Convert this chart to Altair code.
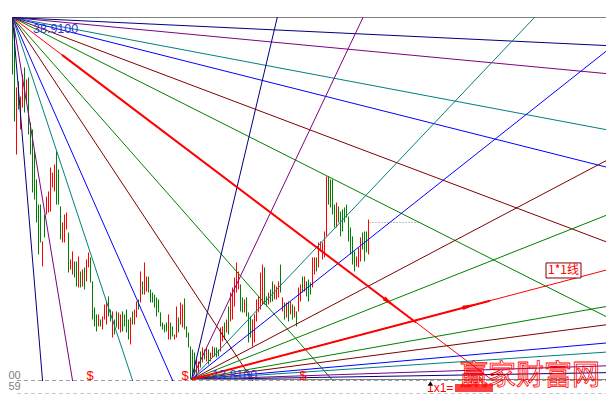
import math
import altair as alt
import pandas as pd

# ---------------- bar data (one bar per trading day) ----------------
bar_high = [38.91, 38.08, 34.06, 34.47, 33.43, 34.96, 35.44, 34.61, 34.75, 31.63,
            31.15, 29.62, 27.68, 25.94, 25.94, 23.38, 25.25, 26.50, 26.85, 28.51,
            28.16, 28.72, 29.62, 28.37, 25.81, 24.70, 25.25, 25.39, 24.00, 22.13,
            22.69, 21.99, 21.99, 22.34, 21.30, 21.44, 21.58, 22.13, 22.62, 22.27,
            20.61, 18.80, 18.32, 18.32, 17.97, 18.18, 19.01, 19.22, 19.57, 18.66,
            18.53, 17.97, 18.53, 18.46, 18.32, 18.53, 18.32, 18.66, 17.97, 18.11,
            18.53, 18.66, 19.22, 19.36, 21.30, 20.61, 21.92, 20.95, 20.95, 20.05,
            19.84, 19.70, 19.50, 19.36, 18.46, 17.76, 17.62, 17.76, 18.32, 17.76,
            17.49, 16.93, 18.87, 18.11, 19.15, 19.01, 19.43, 17.49, 17.07, 16.10,
            15.89, 15.68, 15.20, 15.06, 15.75, 16.03, 15.89, 16.03, 15.89, 15.68,
            16.10, 16.03, 16.03, 15.89, 17.42, 17.49, 17.76, 17.97, 18.87, 19.84,
            20.19, 20.88, 21.92, 21.30, 20.40, 19.50, 19.36, 19.50, 18.46, 18.18,
            17.97, 18.32, 19.36, 19.57, 21.23, 21.78, 21.58, 19.57, 19.84, 20.05,
            20.61, 20.40, 20.26, 20.61, 21.78, 19.50, 19.15, 19.15, 19.22, 19.22,
            19.01, 18.87, 18.53, 20.19, 20.40, 20.95, 20.95, 20.61, 20.74, 20.54,
            22.27, 22.27, 22.27, 23.31, 23.38, 23.31, 24.07, 27.89, 27.89, 27.68,
            27.68, 25.94, 26.08, 25.81, 25.46, 25.60, 25.74, 25.94, 25.11, 24.35,
            23.73, 22.69, 22.34, 22.96, 23.66, 24.00, 24.07, 24.07, 24.90]
bar_low = [34.96, 31.70, 29.41, 32.53, 31.15, 32.67, 32.32, 33.02, 30.80, 29.41,
           26.78, 26.29, 24.70, 22.48, 23.31, 21.65, 23.66, 25.25, 25.39, 25.46,
           27.12, 26.85, 25.94, 25.94, 23.52, 23.31, 23.31, 24.21, 21.23, 21.44,
           21.09, 20.88, 20.26, 20.19, 20.19, 20.26, 20.05, 20.61, 21.58, 20.54,
           17.97, 17.49, 17.14, 17.49, 17.49, 17.28, 17.97, 17.62, 18.18, 17.83,
           16.72, 16.93, 17.42, 17.28, 17.07, 17.14, 17.49, 17.07, 16.58, 16.24,
           17.62, 17.62, 18.11, 18.66, 19.15, 19.70, 19.70, 19.91, 19.84, 19.15,
           19.15, 18.80, 18.18, 18.46, 17.49, 17.28, 17.07, 17.14, 16.58, 16.58,
           16.79, 16.58, 16.72, 17.07, 17.62, 17.42, 17.28, 16.72, 16.03, 13.81,
           14.02, 14.16, 14.02, 14.30, 14.64, 14.99, 15.20, 15.06, 14.85, 15.06,
           15.34, 15.41, 15.34, 15.41, 15.75, 16.45, 16.58, 17.07, 16.93, 17.83,
           17.97, 18.87, 19.84, 20.05, 18.53, 18.46, 18.46, 18.18, 16.38, 16.72,
           16.10, 16.38, 17.83, 18.46, 18.66, 19.01, 19.01, 18.87, 19.01, 19.15,
           19.22, 19.36, 19.36, 19.50, 19.84, 18.53, 17.97, 18.11, 17.83, 18.32,
           17.97, 18.11, 17.49, 18.53, 19.22, 19.84, 19.91, 19.57, 19.22, 19.70,
           20.19, 21.09, 21.30, 21.58, 22.69, 22.13, 22.27, 23.73, 25.94, 25.74,
           25.25, 24.35, 24.35, 24.70, 23.73, 24.07, 24.70, 25.04, 23.38, 22.48,
           21.78, 21.30, 21.65, 21.58, 21.99, 22.82, 21.99, 22.62, 22.48]
# R = up day (red), G = down day (green)
bar_dir = list("GGRGRRGRGG" "GGGGGRGRRR" "RRGGGRRRGR" "RGGRGRGRRG" "GGGRGRRRGG"
               "RGGRRGGGGR" "GRRGRGRRGG" "GGGGGGGGRG" "GRRGRRGGGG" "GGRRGRGRGR"
               "RGGGRRGRGR" "RRRRGGRGGG" "RRRRRRGGRG" "GRRRGRGRGR" "GRGRRGRGGG"
               "RRGRRRRRGG" "GGRGGGGGGG" "GGRRRGGGR")

# ---------------- Gann fans ----------------
fan_origin_day = [0, 89.5]
fan_origin_price = [38.91, 13.81]
fan_unit = [-0.1048, 0.0366]          # price change per day of the 1x1 line
fan_ratios = [16, 8, 4, 3, 2, 1.5, 1, 1 / 1.5, 1 / 2, 1 / 3, 1 / 4, 1 / 8, 1 / 16]
fan_colors = ["#000080", "#800080", "#008080", "#0000ff", "#800000", "#008000", "#ff0000",
              "#008000", "#800000", "#0000ff", "#008080", "#800080", "#000080"]
fan_labels = ["38.9100", "13.8100"]
ray_span = 400

# emphasised 1x1 arrows (start day, end day, arrow-head day)
arrow_start = [24.75, 89.5]
arrow_end = [201.75, 238.75]
arrow_head = [188.75, 228.75]

dollar_days = [38.75, 86.25, 145.25]
last_day = [178.5, 203.75]
last_price = 24.70

X_DOM = [-0.25, 296.75]
Y_DOM = [13.7055, 38.9447]
W, H = 594, 364
px_day = W / (X_DOM[1] - X_DOM[0])
px_price = H / (Y_DOM[1] - Y_DOM[0])

xs = alt.Scale(domain=X_DOM, nice=False, zero=False)
ys = alt.Scale(domain=Y_DOM, nice=False, zero=False)


def X(f):
    return alt.X(f, type="quantitative", scale=xs, axis=None)


def Y(f):
    return alt.Y(f, type="quantitative", scale=ys, axis=None)


bars = pd.DataFrame({"day": list(range(len(bar_high))), "high": bar_high,
                     "low": bar_low, "dir": bar_dir})

rays, thick, heads = [], [], []
for f in range(2):
    od, op, u = fan_origin_day[f], fan_origin_price[f], fan_unit[f]
    rays.append({"day": od, "price": op, "day2": od + ray_span, "price2": op,
                 "color": "#808080"})
    for r, c in zip(fan_ratios, fan_colors):
        rays.append({"day": od, "price": op, "day2": od + ray_span,
                     "price2": op + u * r * ray_span, "color": c})
    thick.append({"day": arrow_start[f], "price": op + u * (arrow_start[f] - od),
                  "day2": arrow_end[f], "price2": op + u * (arrow_end[f] - od)})
    ang = math.degrees(math.atan2(-u * px_price, px_day)) % 360
    heads.append({"day": arrow_head[f], "price": op + u * (arrow_head[f] - od), "ang": ang})
rays = pd.DataFrame(rays)
thick = pd.DataFrame(thick)
heads = pd.DataFrame(heads)

bar_layer = alt.Chart(bars).mark_rule(strokeWidth=1, clip=True).encode(
    x=X("day"), y=Y("high"), y2="low",
    color=alt.Color("dir:N", scale=alt.Scale(domain=["R", "G"], range=["#ff0000", "#008000"]),
                    legend=None))

ray_layer = alt.Chart(rays).mark_rule(strokeWidth=1, clip=True).encode(
    x=X("day"), y=Y("price"), x2="day2", y2="price2",
    color=alt.Color("color:N", scale=None))

thick_layer = alt.Chart(thick).mark_rule(strokeWidth=2, color="#ff0000", clip=True).encode(
    x=X("day"), y=Y("price"), x2="day2", y2="price2")

head_layer = alt.Chart(heads).mark_point(shape="M1,0L-1,-0.3L-1,0.3Z", filled=True, size=225,
                                         color="#ff0000", opacity=1).encode(
    x=X("day"), y=Y("price"), angle=alt.Angle("ang:Q", scale=None))

# frame / separator lines
sep = pd.DataFrame({"day": [2.25, 2.25], "day2": [296.75, 296.75], "price": [13.74, 12.81]})
sep_layer = alt.Chart(sep).mark_rule(strokeWidth=1, color="#a0a0a0", strokeDash=[4, 3]).encode(
    x=X("day"), x2="day2", y=Y("price"))
# repaint fan-2 base line on top of dashed separator
base2 = pd.DataFrame({"day": [fan_origin_day[1]], "day2": [296.75], "price": [fan_origin_price[1]]})
base2_layer = alt.Chart(base2).mark_rule(strokeWidth=1, color="#808080").encode(
    x=X("day"), x2="day2", y=Y("price"))

last = pd.DataFrame({"day": [last_day[0]], "day2": [last_day[1]], "price": [last_price]})
last_layer = alt.Chart(last).mark_rule(strokeWidth=1, color="#808080", strokeDash=[1, 2]).encode(
    x=X("day"), x2="day2", y=Y("price"))

# fan origin price labels
lab1 = pd.DataFrame({"day": [fan_origin_day[0]], "price": [fan_origin_price[0]], "t": [fan_labels[0]]})
lab2 = pd.DataFrame({"day": [fan_origin_day[1]], "price": [fan_origin_price[1]], "t": [fan_labels[1]]})
lab1_layer = alt.Chart(lab1).mark_text(font="Liberation Sans", fontSize=12.5, color="#3434d4",
                                       align="left", baseline="middle", dx=20.5, dy=11.5).encode(
    x=X("day"), y=Y("price"), text="t:N")
lab2_layer = alt.Chart(lab2).mark_text(font="Liberation Sans", fontSize=12.5, color="#3434d4",
                                       align="left", baseline="middle", dx=20.5, dy=-4.5).encode(
    x=X("day"), y=Y("price"), text="t:N")

dollars = pd.DataFrame({"day": dollar_days, "price": [14.05] * len(dollar_days), "t": ["$"] * len(dollar_days)})
dollar_layer = alt.Chart(dollars).mark_text(font="Liberation Sans", fontSize=13, color="#ff0000",
                                            align="center", baseline="middle").encode(
    x=X("day"), y=Y("price"), text="t:N")

# "1*1线" boxed label
box = pd.DataFrame({"day": [275.5], "price": [21.37], "t": ["1*1线"]})
box_rect = alt.Chart(box).mark_point(shape="M-1,-0.43H1V0.43H-1Z", size=1225, filled=True,
                                     fill="#ffffff", stroke="#800000", strokeWidth=1,
                                     fillOpacity=1, strokeOpacity=1).encode(x=X("day"), y=Y("price"))
box_text = alt.Chart(box).mark_text(font="Noto Sans CJK SC", fontSize=12, color="#ff0000",
                                    align="center", baseline="middle").encode(
    x=X("day"), y=Y("price"), text="t:N")

# bottom strip annotations
eq = pd.DataFrame({"day": [207.25], "price": [13.19], "t": ["1x1="]})
eq_layer = alt.Chart(eq).mark_text(font="Liberation Sans", fontSize=12, color="#ff0000",
                                   align="left", baseline="middle").encode(
    x=X("day"), y=Y("price"), text="t:N")
tri = pd.DataFrame({"day": [209], "price": [13.53]})
tri_layer = alt.Chart(tri).mark_point(shape="triangle-up", size=28, filled=True,
                                      color="#000000", opacity=1).encode(x=X("day"), y=Y("price"))
smudge = pd.DataFrame({"day": [230.75], "price": [13.22]})
smudge_layer = alt.Chart(smudge).mark_point(shape="M-1,-0.21H1V0.21H-1Z", size=1444, filled=True,
                                            color="#ff2020", opacity=0.85).encode(x=X("day"), y=Y("price"))

wm = pd.DataFrame({"day": [258.75], "price": [13.98], "t": ["赢家财富网"]})
wm_layer = alt.Chart(wm).mark_text(font="Noto Sans CJK SC", fontSize=28, fillOpacity=0,
                                   stroke="#ff0000", strokeWidth=0.8, align="center",
                                   baseline="middle").encode(x=X("day"), y=Y("price"), text="t:N")

side = pd.DataFrame({"day": [-2, -2], "price": [14.05, 13.29], "t": ["00", "59"]})
side_layer = alt.Chart(side).mark_text(font="Liberation Sans", fontSize=11, color="#808080",
                                       align="left", baseline="middle").encode(
    x=X("day"), y=Y("price"), text="t:N")

chart = alt.layer(
    sep_layer, bar_layer, ray_layer, base2_layer, thick_layer, head_layer, last_layer,
    lab1_layer, lab2_layer, dollar_layer, box_rect, box_text, eq_layer, tri_layer,
    smudge_layer, wm_layer, side_layer
).properties(
    width=W, height=H, autosize="none",
    padding={"left": 4, "top": 9, "right": 0, "bottom": 13},
    background="#ffffff"
).configure_view(stroke=None)

chart.save("out.html", embed_options={"renderer": "svg", "actions": False})
